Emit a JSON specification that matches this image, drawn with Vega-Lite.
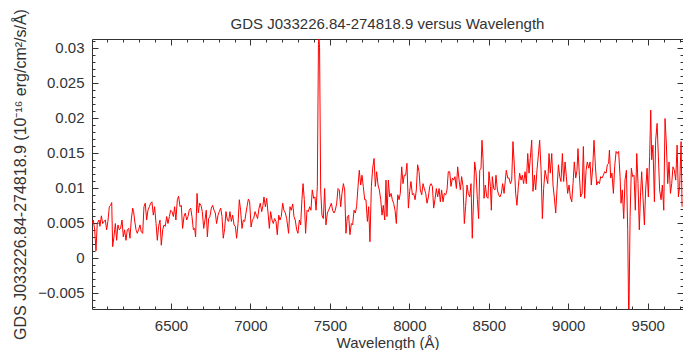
{
  "$schema": "https://vega.github.io/schema/vega-lite/v6.json",
  "width": 591,
  "height": 270,
  "autosize": {"type": "none"},
  "padding": {"left": 92, "top": 39, "right": 0, "bottom": 41},
  "background": "white",
  "title": {"text": "GDS J033226.84-274818.9 versus Wavelength", "frame": "group", "anchor": "middle", "offset": -23, "fontSize": 15, "fontWeight": "normal", "color": "#333333", "font": "Liberation Sans"},
  "config": {
    "font": "Liberation Sans",
    "view": {"stroke": "#333333", "strokeWidth": 1},
    "axis": {"grid": false, "domain": false, "labelFont": "Liberation Sans", "labelFontSize": 15, "labelColor": "#333333", "titleFont": "Liberation Sans", "titleFontSize": 15, "titleFontWeight": "normal", "titleColor": "#333333", "tickColor": "#333333", "tickWidth": 1, "labelOverlap": false}
  },
  "data": {"values": [
    {"wavelength": 6004, "flux": 0.0049}, {"wavelength": 6011, "flux": 0.0054}, {"wavelength": 6020, "flux": 0.0040}, {"wavelength": 6028, "flux": 0.0010},
    {"wavelength": 6036, "flux": 0.0049}, {"wavelength": 6047, "flux": 0.0054}, {"wavelength": 6053, "flux": 0.0045}, {"wavelength": 6062, "flux": 0.0060},
    {"wavelength": 6070, "flux": 0.0049}, {"wavelength": 6078, "flux": 0.0052}, {"wavelength": 6087, "flux": 0.0054}, {"wavelength": 6095, "flux": 0.0040},
    {"wavelength": 6103, "flux": 0.0052}, {"wavelength": 6112, "flux": 0.0073}, {"wavelength": 6120, "flux": 0.0075}, {"wavelength": 6127, "flux": 0.0079},
    {"wavelength": 6133, "flux": 0.0016}, {"wavelength": 6141, "flux": 0.0030}, {"wavelength": 6150, "flux": 0.0049}, {"wavelength": 6158, "flux": 0.0025},
    {"wavelength": 6166, "flux": 0.0047}, {"wavelength": 6175, "flux": 0.0040}, {"wavelength": 6183, "flux": 0.0042}, {"wavelength": 6192, "flux": 0.0054},
    {"wavelength": 6200, "flux": 0.0030}, {"wavelength": 6208, "flux": 0.0040}, {"wavelength": 6217, "flux": 0.0025}, {"wavelength": 6225, "flux": 0.0040},
    {"wavelength": 6234, "flux": 0.0042}, {"wavelength": 6242, "flux": 0.0028}, {"wavelength": 6250, "flux": 0.0054}, {"wavelength": 6259, "flux": 0.0071},
    {"wavelength": 6265, "flux": 0.0066}, {"wavelength": 6271, "flux": 0.0054}, {"wavelength": 6280, "flux": 0.0040}, {"wavelength": 6288, "flux": 0.0035},
    {"wavelength": 6296, "flux": 0.0040}, {"wavelength": 6305, "flux": 0.0047}, {"wavelength": 6313, "flux": 0.0037}, {"wavelength": 6322, "flux": 0.0035},
    {"wavelength": 6330, "flux": 0.0073}, {"wavelength": 6338, "flux": 0.0078}, {"wavelength": 6347, "flux": 0.0054}, {"wavelength": 6355, "flux": 0.0068},
    {"wavelength": 6364, "flux": 0.0073}, {"wavelength": 6372, "flux": 0.0078}, {"wavelength": 6380, "flux": 0.0080}, {"wavelength": 6389, "flux": 0.0061},
    {"wavelength": 6397, "flux": 0.0073}, {"wavelength": 6406, "flux": 0.0049}, {"wavelength": 6414, "flux": 0.0025}, {"wavelength": 6422, "flux": 0.0045},
    {"wavelength": 6431, "flux": 0.0054}, {"wavelength": 6439, "flux": 0.0018}, {"wavelength": 6448, "flux": 0.0040}, {"wavelength": 6456, "flux": 0.0047},
    {"wavelength": 6464, "flux": 0.0045}, {"wavelength": 6473, "flux": 0.0059}, {"wavelength": 6481, "flux": 0.0049}, {"wavelength": 6490, "flux": 0.0059},
    {"wavelength": 6498, "flux": 0.0068}, {"wavelength": 6506, "flux": 0.0066}, {"wavelength": 6515, "flux": 0.0059}, {"wavelength": 6523, "flux": 0.0073},
    {"wavelength": 6531, "flux": 0.0054}, {"wavelength": 6540, "flux": 0.0083}, {"wavelength": 6548, "flux": 0.0088}, {"wavelength": 6557, "flux": 0.0073},
    {"wavelength": 6565, "flux": 0.0075}, {"wavelength": 6573, "flux": 0.0042}, {"wavelength": 6582, "flux": 0.0059}, {"wavelength": 6590, "flux": 0.0064},
    {"wavelength": 6599, "flux": 0.0054}, {"wavelength": 6607, "flux": 0.0059}, {"wavelength": 6615, "flux": 0.0068},
    {"wavelength": 6624, "flux": 0.0071}, {"wavelength": 6632, "flux": 0.0059}, {"wavelength": 6641, "flux": 0.0040}, {"wavelength": 6649, "flux": 0.0042},
    {"wavelength": 6655, "flux": 0.0030}, {"wavelength": 6664, "flux": 0.0092}, {"wavelength": 6672, "flux": 0.0064}, {"wavelength": 6680, "flux": 0.0078},
    {"wavelength": 6689, "flux": 0.0075}, {"wavelength": 6697, "flux": 0.0066}, {"wavelength": 6706, "flux": 0.0042}, {"wavelength": 6714, "flux": 0.0054},
    {"wavelength": 6722, "flux": 0.0068}, {"wavelength": 6729, "flux": 0.0030}, {"wavelength": 6737, "flux": 0.0056}, {"wavelength": 6745, "flux": 0.0059},
    {"wavelength": 6754, "flux": 0.0071}, {"wavelength": 6762, "flux": 0.0075}, {"wavelength": 6771, "flux": 0.0068}, {"wavelength": 6779, "flux": 0.0064},
    {"wavelength": 6787, "flux": 0.0049}, {"wavelength": 6796, "flux": 0.0061}, {"wavelength": 6804, "flux": 0.0066}, {"wavelength": 6813, "flux": 0.0071},
    {"wavelength": 6821, "flux": 0.0059}, {"wavelength": 6829, "flux": 0.0028}, {"wavelength": 6838, "flux": 0.0042}, {"wavelength": 6846, "flux": 0.0066},
    {"wavelength": 6855, "flux": 0.0054}, {"wavelength": 6863, "flux": 0.0052}, {"wavelength": 6871, "flux": 0.0066}, {"wavelength": 6880, "flux": 0.0052},
    {"wavelength": 6888, "flux": 0.0061}, {"wavelength": 6897, "flux": 0.0047}, {"wavelength": 6905, "flux": 0.0045}, {"wavelength": 6913, "flux": 0.0028},
    {"wavelength": 6922, "flux": 0.0049}, {"wavelength": 6930, "flux": 0.0083}, {"wavelength": 6938, "flux": 0.0068}, {"wavelength": 6947, "flux": 0.0042},
    {"wavelength": 6955, "flux": 0.0054}, {"wavelength": 6964, "flux": 0.0052}, {"wavelength": 6972, "flux": 0.0064}, {"wavelength": 6980, "flux": 0.0075},
    {"wavelength": 6987, "flux": 0.0084}, {"wavelength": 6995, "flux": 0.0080}, {"wavelength": 7004, "flux": 0.0044}, {"wavelength": 7012, "flux": 0.0054},
    {"wavelength": 7020, "flux": 0.0056}, {"wavelength": 7029, "flux": 0.0066}, {"wavelength": 7037, "flux": 0.0061}, {"wavelength": 7045, "flux": 0.0056},
    {"wavelength": 7054, "flux": 0.0071}, {"wavelength": 7062, "flux": 0.0078}, {"wavelength": 7071, "flux": 0.0066}, {"wavelength": 7079, "flux": 0.0075},
    {"wavelength": 7085, "flux": 0.0087}, {"wavelength": 7094, "flux": 0.0073}, {"wavelength": 7102, "flux": 0.0085}, {"wavelength": 7111, "flux": 0.0064},
    {"wavelength": 7119, "flux": 0.0042}, {"wavelength": 7127, "flux": 0.0066}, {"wavelength": 7136, "flux": 0.0054}, {"wavelength": 7144, "flux": 0.0049},
    {"wavelength": 7152, "flux": 0.0056}, {"wavelength": 7161, "flux": 0.0052}, {"wavelength": 7169, "flux": 0.0033}, {"wavelength": 7178, "flux": 0.0061},
    {"wavelength": 7186, "flux": 0.0054}, {"wavelength": 7194, "flux": 0.0059}, {"wavelength": 7203, "flux": 0.0078}, {"wavelength": 7211, "flux": 0.0068},
    {"wavelength": 7220, "flux": 0.0064}, {"wavelength": 7228, "flux": 0.0056}, {"wavelength": 7236, "flux": 0.0042},
    {"wavelength": 7240, "flux": 0.0035}, {"wavelength": 7249, "flux": 0.0073}, {"wavelength": 7257, "flux": 0.0068}, {"wavelength": 7266, "flux": 0.0077},
    {"wavelength": 7274, "flux": 0.0059}, {"wavelength": 7282, "flux": 0.0054}, {"wavelength": 7291, "flux": 0.0040}, {"wavelength": 7299, "flux": 0.0035},
    {"wavelength": 7308, "flux": 0.0054}, {"wavelength": 7316, "flux": 0.0047}, {"wavelength": 7324, "flux": 0.0083}, {"wavelength": 7331, "flux": 0.0106},
    {"wavelength": 7339, "flux": 0.0083}, {"wavelength": 7347, "flux": 0.0035}, {"wavelength": 7356, "flux": 0.0068}, {"wavelength": 7364, "flux": 0.0066},
    {"wavelength": 7373, "flux": 0.0073}, {"wavelength": 7381, "flux": 0.0068}, {"wavelength": 7389, "flux": 0.0097}, {"wavelength": 7398, "flux": 0.0085},
    {"wavelength": 7406, "flux": 0.0087}, {"wavelength": 7413, "flux": 0.0068}, {"wavelength": 7421, "flux": 0.0102}, {"wavelength": 7428, "flux": 0.0305},
    {"wavelength": 7431, "flux": 0.0316}, {"wavelength": 7435, "flux": 0.0300}, {"wavelength": 7442, "flux": 0.0097}, {"wavelength": 7450, "flux": 0.0061},
    {"wavelength": 7459, "flux": 0.0056}, {"wavelength": 7467, "flux": 0.0099}, {"wavelength": 7475, "flux": 0.0047}, {"wavelength": 7484, "flux": 0.0064},
    {"wavelength": 7492, "flux": 0.0068}, {"wavelength": 7501, "flux": 0.0073}, {"wavelength": 7509, "flux": 0.0078}, {"wavelength": 7517, "flux": 0.0068},
    {"wavelength": 7526, "flux": 0.0064}, {"wavelength": 7534, "flux": 0.0068}, {"wavelength": 7543, "flux": 0.0078}, {"wavelength": 7551, "flux": 0.0099},
    {"wavelength": 7559, "flux": 0.0097}, {"wavelength": 7568, "flux": 0.0073}, {"wavelength": 7576, "flux": 0.0092}, {"wavelength": 7585, "flux": 0.0106},
    {"wavelength": 7593, "flux": 0.0097}, {"wavelength": 7601, "flux": 0.0035}, {"wavelength": 7610, "flux": 0.0059}, {"wavelength": 7618, "flux": 0.0061},
    {"wavelength": 7626, "flux": 0.0033}, {"wavelength": 7635, "flux": 0.0049}, {"wavelength": 7643, "flux": 0.0047}, {"wavelength": 7652, "flux": 0.0068},
    {"wavelength": 7660, "flux": 0.0064}, {"wavelength": 7668, "flux": 0.0073}, {"wavelength": 7677, "flux": 0.0102}, {"wavelength": 7685, "flux": 0.0125},
    {"wavelength": 7694, "flux": 0.0104}, {"wavelength": 7702, "flux": 0.0118}, {"wavelength": 7710, "flux": 0.0102}, {"wavelength": 7719, "flux": 0.0083},
    {"wavelength": 7727, "flux": 0.0083}, {"wavelength": 7736, "flux": 0.0052}, {"wavelength": 7744, "flux": 0.0073}, {"wavelength": 7752, "flux": 0.0023},
    {"wavelength": 7761, "flux": 0.0102}, {"wavelength": 7769, "flux": 0.0128}, {"wavelength": 7778, "flux": 0.0142}, {"wavelength": 7786, "flux": 0.0102},
    {"wavelength": 7794, "flux": 0.0123}, {"wavelength": 7803, "flux": 0.0104}, {"wavelength": 7811, "flux": 0.0097}, {"wavelength": 7820, "flux": 0.0083},
    {"wavelength": 7828, "flux": 0.0061}, {"wavelength": 7836, "flux": 0.0075}, {"wavelength": 7845, "flux": 0.0054}, {"wavelength": 7853, "flux": 0.0111},
    {"wavelength": 7859, "flux": 0.0059}, {"wavelength": 7868, "flux": 0.0111}, {"wavelength": 7876, "flux": 0.0087}, {"wavelength": 7885, "flux": 0.0092},
    {"wavelength": 7893, "flux": 0.0083}, {"wavelength": 7901, "flux": 0.0078}, {"wavelength": 7910, "flux": 0.0068}, {"wavelength": 7918, "flux": 0.0049},
    {"wavelength": 7927, "flux": 0.0090}, {"wavelength": 7935, "flux": 0.0083}, {"wavelength": 7943, "flux": 0.0092}, {"wavelength": 7952, "flux": 0.0130},
    {"wavelength": 7960, "flux": 0.0106}, {"wavelength": 7968, "flux": 0.0118}, {"wavelength": 7977, "flux": 0.0118}, {"wavelength": 7985, "flux": 0.0135},
    {"wavelength": 7994, "flux": 0.0071}, {"wavelength": 8002, "flux": 0.0095}, {"wavelength": 8010, "flux": 0.0109}, {"wavelength": 8019, "flux": 0.0090},
    {"wavelength": 8027, "flux": 0.0092}, {"wavelength": 8036, "flux": 0.0083}, {"wavelength": 8044, "flux": 0.0097}, {"wavelength": 8052, "flux": 0.0133},
    {"wavelength": 8061, "flux": 0.0123}, {"wavelength": 8069, "flux": 0.0097}, {"wavelength": 8078, "flux": 0.0090}, {"wavelength": 8086, "flux": 0.0106},
    {"wavelength": 8094, "flux": 0.0099}, {"wavelength": 8103, "flux": 0.0092}, {"wavelength": 8111, "flux": 0.0078}, {"wavelength": 8120, "flux": 0.0087},
    {"wavelength": 8128, "flux": 0.0102}, {"wavelength": 8136, "flux": 0.0106}, {"wavelength": 8145, "flux": 0.0102}, {"wavelength": 8153, "flux": 0.0071},
    {"wavelength": 8161, "flux": 0.0083}, {"wavelength": 8170, "flux": 0.0099}, {"wavelength": 8178, "flux": 0.0087}, {"wavelength": 8187, "flux": 0.0099},
    {"wavelength": 8195, "flux": 0.0080}, {"wavelength": 8203, "flux": 0.0097}, {"wavelength": 8212, "flux": 0.0080}, {"wavelength": 8220, "flux": 0.0092},
    {"wavelength": 8229, "flux": 0.0090}, {"wavelength": 8237, "flux": 0.0097}, {"wavelength": 8245, "flux": 0.0123}, {"wavelength": 8254, "flux": 0.0123},
    {"wavelength": 8262, "flux": 0.0102}, {"wavelength": 8271, "flux": 0.0114}, {"wavelength": 8279, "flux": 0.0111}, {"wavelength": 8287, "flux": 0.0116},
    {"wavelength": 8296, "flux": 0.0099}, {"wavelength": 8304, "flux": 0.0130}, {"wavelength": 8313, "flux": 0.0111}, {"wavelength": 8321, "flux": 0.0097},
    {"wavelength": 8329, "flux": 0.0116}, {"wavelength": 8338, "flux": 0.0102}, {"wavelength": 8346, "flux": 0.0049}, {"wavelength": 8354, "flux": 0.0073},
    {"wavelength": 8363, "flux": 0.0104}, {"wavelength": 8371, "flux": 0.0092}, {"wavelength": 8380, "flux": 0.0087}, {"wavelength": 8388, "flux": 0.0106},
    {"wavelength": 8396, "flux": 0.0028}, {"wavelength": 8405, "flux": 0.0092}, {"wavelength": 8411, "flux": 0.0137}, {"wavelength": 8420, "flux": 0.0121},
    {"wavelength": 8428, "flux": 0.0083}, {"wavelength": 8436, "flux": 0.0056}, {"wavelength": 8443, "flux": 0.0125}, {"wavelength": 8451, "flux": 0.0128},
    {"wavelength": 8457, "flux": 0.0168}, {"wavelength": 8464, "flux": 0.0140}, {"wavelength": 8470, "flux": 0.0085},
    {"wavelength": 8478, "flux": 0.0104}, {"wavelength": 8487, "flux": 0.0087}, {"wavelength": 8495, "flux": 0.0085}, {"wavelength": 8501, "flux": 0.0123},
    {"wavelength": 8510, "flux": 0.0102}, {"wavelength": 8516, "flux": 0.0068}, {"wavelength": 8522, "flux": 0.0116}, {"wavelength": 8531, "flux": 0.0099},
    {"wavelength": 8539, "flux": 0.0097}, {"wavelength": 8545, "flux": 0.0118}, {"wavelength": 8554, "flux": 0.0097}, {"wavelength": 8562, "flux": 0.0090},
    {"wavelength": 8570, "flux": 0.0087}, {"wavelength": 8579, "flux": 0.0092}, {"wavelength": 8587, "flux": 0.0106}, {"wavelength": 8596, "flux": 0.0092},
    {"wavelength": 8604, "flux": 0.0111}, {"wavelength": 8610, "flux": 0.0125}, {"wavelength": 8619, "flux": 0.0114}, {"wavelength": 8627, "flux": 0.0114},
    {"wavelength": 8636, "flux": 0.0106}, {"wavelength": 8644, "flux": 0.0111}, {"wavelength": 8652, "flux": 0.0166}, {"wavelength": 8661, "flux": 0.0130},
    {"wavelength": 8669, "flux": 0.0092}, {"wavelength": 8677, "flux": 0.0075}, {"wavelength": 8686, "flux": 0.0102}, {"wavelength": 8694, "flux": 0.0121},
    {"wavelength": 8703, "flux": 0.0111}, {"wavelength": 8711, "flux": 0.0118}, {"wavelength": 8719, "flux": 0.0106}, {"wavelength": 8728, "flux": 0.0123},
    {"wavelength": 8736, "flux": 0.0106}, {"wavelength": 8745, "flux": 0.0149}, {"wavelength": 8753, "flux": 0.0121}, {"wavelength": 8761, "flux": 0.0142},
    {"wavelength": 8770, "flux": 0.0168}, {"wavelength": 8778, "flux": 0.0095}, {"wavelength": 8787, "flux": 0.0118}, {"wavelength": 8795, "flux": 0.0097},
    {"wavelength": 8803, "flux": 0.0125}, {"wavelength": 8812, "flux": 0.0147}, {"wavelength": 8820, "flux": 0.0168}, {"wavelength": 8829, "flux": 0.0125},
    {"wavelength": 8837, "flux": 0.0056}, {"wavelength": 8845, "flux": 0.0099}, {"wavelength": 8854, "flux": 0.0125}, {"wavelength": 8862, "flux": 0.0116},
    {"wavelength": 8871, "flux": 0.0106}, {"wavelength": 8879, "flux": 0.0149}, {"wavelength": 8887, "flux": 0.0121}, {"wavelength": 8896, "flux": 0.0149},
    {"wavelength": 8904, "flux": 0.0104}, {"wavelength": 8912, "flux": 0.0087}, {"wavelength": 8921, "flux": 0.0064}, {"wavelength": 8929, "flux": 0.0097},
    {"wavelength": 8938, "flux": 0.0133}, {"wavelength": 8946, "flux": 0.0116}, {"wavelength": 8954, "flux": 0.0109}, {"wavelength": 8963, "flux": 0.0149},
    {"wavelength": 8971, "flux": 0.0109}, {"wavelength": 8980, "flux": 0.0137}, {"wavelength": 8988, "flux": 0.0116}, {"wavelength": 8996, "flux": 0.0092},
    {"wavelength": 9005, "flux": 0.0104}, {"wavelength": 9013, "flux": 0.0087}, {"wavelength": 9022, "flux": 0.0080}, {"wavelength": 9030, "flux": 0.0106},
    {"wavelength": 9038, "flux": 0.0137}, {"wavelength": 9047, "flux": 0.0114}, {"wavelength": 9055, "flux": 0.0125}, {"wavelength": 9061, "flux": 0.0156},
    {"wavelength": 9070, "flux": 0.0118}, {"wavelength": 9078, "flux": 0.0087}, {"wavelength": 9087, "flux": 0.0092},
    {"wavelength": 9095, "flux": 0.0159}, {"wavelength": 9103, "flux": 0.0085}, {"wavelength": 9112, "flux": 0.0125}, {"wavelength": 9120, "flux": 0.0137},
    {"wavelength": 9129, "flux": 0.0128}, {"wavelength": 9137, "flux": 0.0137}, {"wavelength": 9145, "flux": 0.0104}, {"wavelength": 9154, "flux": 0.0130},
    {"wavelength": 9162, "flux": 0.0168}, {"wavelength": 9171, "flux": 0.0130}, {"wavelength": 9179, "flux": 0.0104}, {"wavelength": 9187, "flux": 0.0109},
    {"wavelength": 9196, "flux": 0.0106}, {"wavelength": 9204, "flux": 0.0116}, {"wavelength": 9212, "flux": 0.0114}, {"wavelength": 9221, "flux": 0.0118},
    {"wavelength": 9229, "flux": 0.0123}, {"wavelength": 9238, "flux": 0.0121}, {"wavelength": 9246, "flux": 0.0133}, {"wavelength": 9254, "flux": 0.0135},
    {"wavelength": 9259, "flux": 0.0154}, {"wavelength": 9267, "flux": 0.0114}, {"wavelength": 9275, "flux": 0.0121}, {"wavelength": 9284, "flux": 0.0092},
    {"wavelength": 9292, "flux": 0.0130}, {"wavelength": 9301, "flux": 0.0152}, {"wavelength": 9309, "flux": 0.0149}, {"wavelength": 9317, "flux": 0.0152},
    {"wavelength": 9326, "flux": 0.0116}, {"wavelength": 9332, "flux": 0.0078}, {"wavelength": 9340, "flux": 0.0097}, {"wavelength": 9349, "flux": 0.0056},
    {"wavelength": 9357, "flux": 0.0111}, {"wavelength": 9366, "flux": 0.0125}, {"wavelength": 9374, "flux": 0.0040}, {"wavelength": 9381, "flux": -0.0100},
    {"wavelength": 9389, "flux": 0.0059}, {"wavelength": 9397, "flux": 0.0128}, {"wavelength": 9405, "flux": 0.0116}, {"wavelength": 9414, "flux": 0.0118},
    {"wavelength": 9422, "flux": 0.0068}, {"wavelength": 9431, "flux": 0.0149}, {"wavelength": 9439, "flux": 0.0106}, {"wavelength": 9447, "flux": 0.0040},
    {"wavelength": 9454, "flux": 0.0087}, {"wavelength": 9462, "flux": 0.0123}, {"wavelength": 9470, "flux": 0.0087}, {"wavelength": 9479, "flux": 0.0047},
    {"wavelength": 9487, "flux": 0.0097}, {"wavelength": 9496, "flux": 0.0128}, {"wavelength": 9504, "flux": 0.0087}, {"wavelength": 9512, "flux": 0.0145},
    {"wavelength": 9519, "flux": 0.0211}, {"wavelength": 9525, "flux": 0.0140}, {"wavelength": 9533, "flux": 0.0161}, {"wavelength": 9542, "flux": 0.0080},
    {"wavelength": 9550, "flux": 0.0168}, {"wavelength": 9559, "flux": 0.0192}, {"wavelength": 9567, "flux": 0.0145}, {"wavelength": 9575, "flux": 0.0097},
    {"wavelength": 9584, "flux": 0.0083}, {"wavelength": 9592, "flux": 0.0104}, {"wavelength": 9601, "flux": 0.0068}, {"wavelength": 9609, "flux": 0.0199},
    {"wavelength": 9617, "flux": 0.0164}, {"wavelength": 9626, "flux": 0.0106}, {"wavelength": 9634, "flux": 0.0137}, {"wavelength": 9643, "flux": 0.0092},
    {"wavelength": 9651, "flux": 0.0106}, {"wavelength": 9659, "flux": 0.0130}, {"wavelength": 9668, "flux": 0.0125}, {"wavelength": 9676, "flux": 0.0111},
    {"wavelength": 9685, "flux": 0.0161}, {"wavelength": 9693, "flux": 0.0087}, {"wavelength": 9701, "flux": 0.0102}, {"wavelength": 9710, "flux": 0.0166},
    {"wavelength": 9716, "flux": 0.0073}
  ]},
  "resolve": {"axis": {"x": "independent", "y": "independent"}},
  "layer": [
    {
      "mark": {"type": "line", "color": "#ff0000", "strokeWidth": 1, "clip": true},
      "encoding": {
        "x": {"field": "wavelength", "type": "quantitative", "scale": {"domain": [6003, 9722], "nice": false, "zero": false},
              "axis": {"orient": "bottom", "values": [6500, 7000, 7500, 8000, 8500, 9000, 9500], "format": "d", "ticks": false, "labelPadding": 9, "title": "Wavelength  (Å)", "titlePadding": 2}},
        "y": {"field": "flux", "type": "quantitative", "scale": {"domain": [-0.00731, 0.03126], "nice": false, "zero": false},
              "axis": {"orient": "left", "values": [-0.005, 0, 0.005, 0.01, 0.015, 0.02, 0.025, 0.03], "format": "~g", "ticks": false, "labelPadding": 8, "title": "GDS J033226.84-274818.9 (10⁻¹⁶ erg/cm²/s/Å)", "titleFontSize": 16, "titlePadding": 9}}
      }
    },
    {
      "mark": {"type": "point", "opacity": 0},
      "encoding": {
        "x": {"field": "wavelength", "type": "quantitative", "axis": {"orient": "bottom", "values": [6500, 7000, 7500, 8000, 8500, 9000, 9500], "labels": false, "tickSize": -6, "title": null}},
        "y": {"field": "flux", "type": "quantitative", "axis": {"orient": "left", "values": [-0.005, 0, 0.005, 0.01, 0.015, 0.02, 0.025, 0.03], "labels": false, "tickSize": -6, "title": null}}
      }
    },
    {
      "mark": {"type": "point", "opacity": 0},
      "encoding": {
        "x": {"field": "wavelength", "type": "quantitative", "axis": {"orient": "top", "values": [6500, 7000, 7500, 8000, 8500, 9000, 9500], "labels": false, "tickSize": -6, "title": null}},
        "y": {"field": "flux", "type": "quantitative", "axis": {"orient": "right", "values": [-0.005, 0, 0.005, 0.01, 0.015, 0.02, 0.025, 0.03], "labels": false, "tickSize": -6, "title": null}}
      }
    },
    {
      "mark": {"type": "point", "opacity": 0},
      "encoding": {
        "x": {"field": "wavelength", "type": "quantitative", "axis": {"orient": "bottom", "values": [6100, 6200, 6300, 6400, 6600, 6700, 6800, 6900, 7100, 7200, 7300, 7400, 7600, 7700, 7800, 7900, 8100, 8200, 8300, 8400, 8600, 8700, 8800, 8900, 9100, 9200, 9300, 9400, 9600, 9700], "labels": false, "tickSize": -3, "title": null}},
        "y": {"field": "flux", "type": "quantitative", "axis": {"orient": "left", "values": [-0.007, -0.006, -0.004, -0.003, -0.002, -0.001, 0.001, 0.002, 0.003, 0.004, 0.006, 0.007, 0.008, 0.009, 0.011, 0.012, 0.013, 0.014, 0.016, 0.017, 0.018, 0.019, 0.021, 0.022, 0.023, 0.024, 0.026, 0.027, 0.028, 0.029, 0.031], "labels": false, "tickSize": -3, "title": null}}
      }
    },
    {
      "mark": {"type": "point", "opacity": 0},
      "encoding": {
        "x": {"field": "wavelength", "type": "quantitative", "axis": {"orient": "top", "values": [6100, 6200, 6300, 6400, 6600, 6700, 6800, 6900, 7100, 7200, 7300, 7400, 7600, 7700, 7800, 7900, 8100, 8200, 8300, 8400, 8600, 8700, 8800, 8900, 9100, 9200, 9300, 9400, 9600, 9700], "labels": false, "tickSize": -3, "title": null}},
        "y": {"field": "flux", "type": "quantitative", "axis": {"orient": "right", "values": [-0.007, -0.006, -0.004, -0.003, -0.002, -0.001, 0.001, 0.002, 0.003, 0.004, 0.006, 0.007, 0.008, 0.009, 0.011, 0.012, 0.013, 0.014, 0.016, 0.017, 0.018, 0.019, 0.021, 0.022, 0.023, 0.024, 0.026, 0.027, 0.028, 0.029, 0.031], "labels": false, "tickSize": -3, "title": null}}
      }
    }
  ]
}
